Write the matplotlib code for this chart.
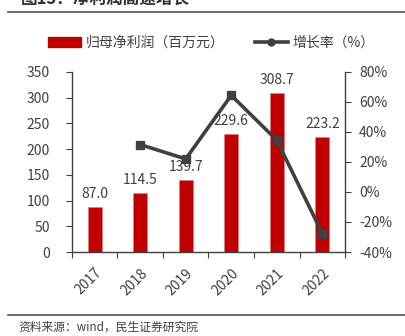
import matplotlib.pyplot as plt
from matplotlib.lines import Line2D
from matplotlib.ticker import FuncFormatter

plt.rcParams['font.family'] = ['Noto Sans CJK SC', 'DejaVu Sans']

years = ['2017', '2018', '2019', '2020', '2021', '2022']
profit = [87.0, 114.5, 139.7, 229.6, 308.7, 223.2]  # 归母净利润（百万元）
growth = [None, 31.6, 22.0, 64.4, 34.5, -27.7]  # 增长率（%）

bar_color = '#C00000'
line_color = '#404040'
text_color = '#404040'

fig = plt.figure(figsize=(4.06, 3.36), dpi=100)
ax = fig.add_axes([0.177, 0.25, 0.673, 0.536])
ax2 = ax.twinx()

x = list(range(len(years)))
ax.bar(x, profit, width=0.31, color=bar_color, edgecolor='#E08080', linewidth=0.4, zorder=2)
for xi, v in zip(x, profit):
    ax.text(xi, v + 12, f'{v:.1f}', ha='center', va='bottom', fontsize=10, color=text_color)

gx = [xi for xi, g in zip(x, growth) if g is not None]
gy = [g for g in growth if g is not None]
ax2.plot(gx, gy, color=line_color, linewidth=2.6, marker='s', markersize=6, zorder=3)

ax.set_xlim(-0.5, len(years) - 0.5)
ax.set_ylim(0, 350)
ax.set_yticks(range(0, 351, 50))
ax2.set_ylim(-40, 80)
ax2.set_yticks(range(-40, 81, 20))
ax2.yaxis.set_major_formatter(FuncFormatter(lambda v, p: f'{v:.0f}%'))

ax.set_xticks([i - 0.5 for i in range(len(years) + 1)])
ax.set_xticklabels([])
ax.set_xticks(x, minor=True)
ax.set_xticklabels(years, minor=True, rotation=45, ha='right', rotation_mode='anchor',
                   fontsize=10, color=text_color)
ax.tick_params(axis='x', which='minor', length=0, pad=10)
ax.tick_params(axis='x', which='major', length=4, color=line_color, direction='out')

for a in (ax, ax2):
    for s in a.spines.values():
        s.set_visible(False)
ax.spines['left'].set_visible(True)
ax.spines['bottom'].set_visible(True)
ax2.spines['right'].set_visible(True)
for s in (ax.spines['left'], ax.spines['bottom'], ax2.spines['right']):
    s.set_color(line_color)
    s.set_linewidth(1.0)

ax.tick_params(axis='y', labelsize=10, labelcolor=text_color, color=line_color, length=4, pad=12)
ax2.tick_params(axis='y', labelsize=10, labelcolor=text_color, color=line_color, length=4, pad=6)

handles = [plt.Rectangle((0, 0), 1, 1, color=bar_color),
           Line2D([], [], color=line_color, linewidth=2.6, marker='o', markersize=5)]
fig.legend(handles, ['归母净利润（百万元）', '增长率（%）'], loc='center', bbox_to_anchor=(0.52, 0.872),
           ncol=2, frameon=False, fontsize=10, labelcolor=text_color, handlelength=2.4,
           handletextpad=0.3, columnspacing=2.2)

# title (clipped at top edge) and separator lines
fig.text(0.05, 1.0, '图13：净利润高速增长', fontsize=12, fontweight='bold', color='#333333',
         ha='left', va='center')
fig.add_artist(Line2D([0.02, 1.0], [0.964, 0.964], color='#555555', linewidth=1.2))
fig.add_artist(Line2D([0.02, 1.0], [0.062, 0.062], color='#555555', linewidth=1.2))
fig.text(0.045, 0.027, '资料来源：wind，民生证券研究院', fontsize=8.5, color=text_color,
         ha='left', va='center')

fig.savefig('out.png', dpi=100)
